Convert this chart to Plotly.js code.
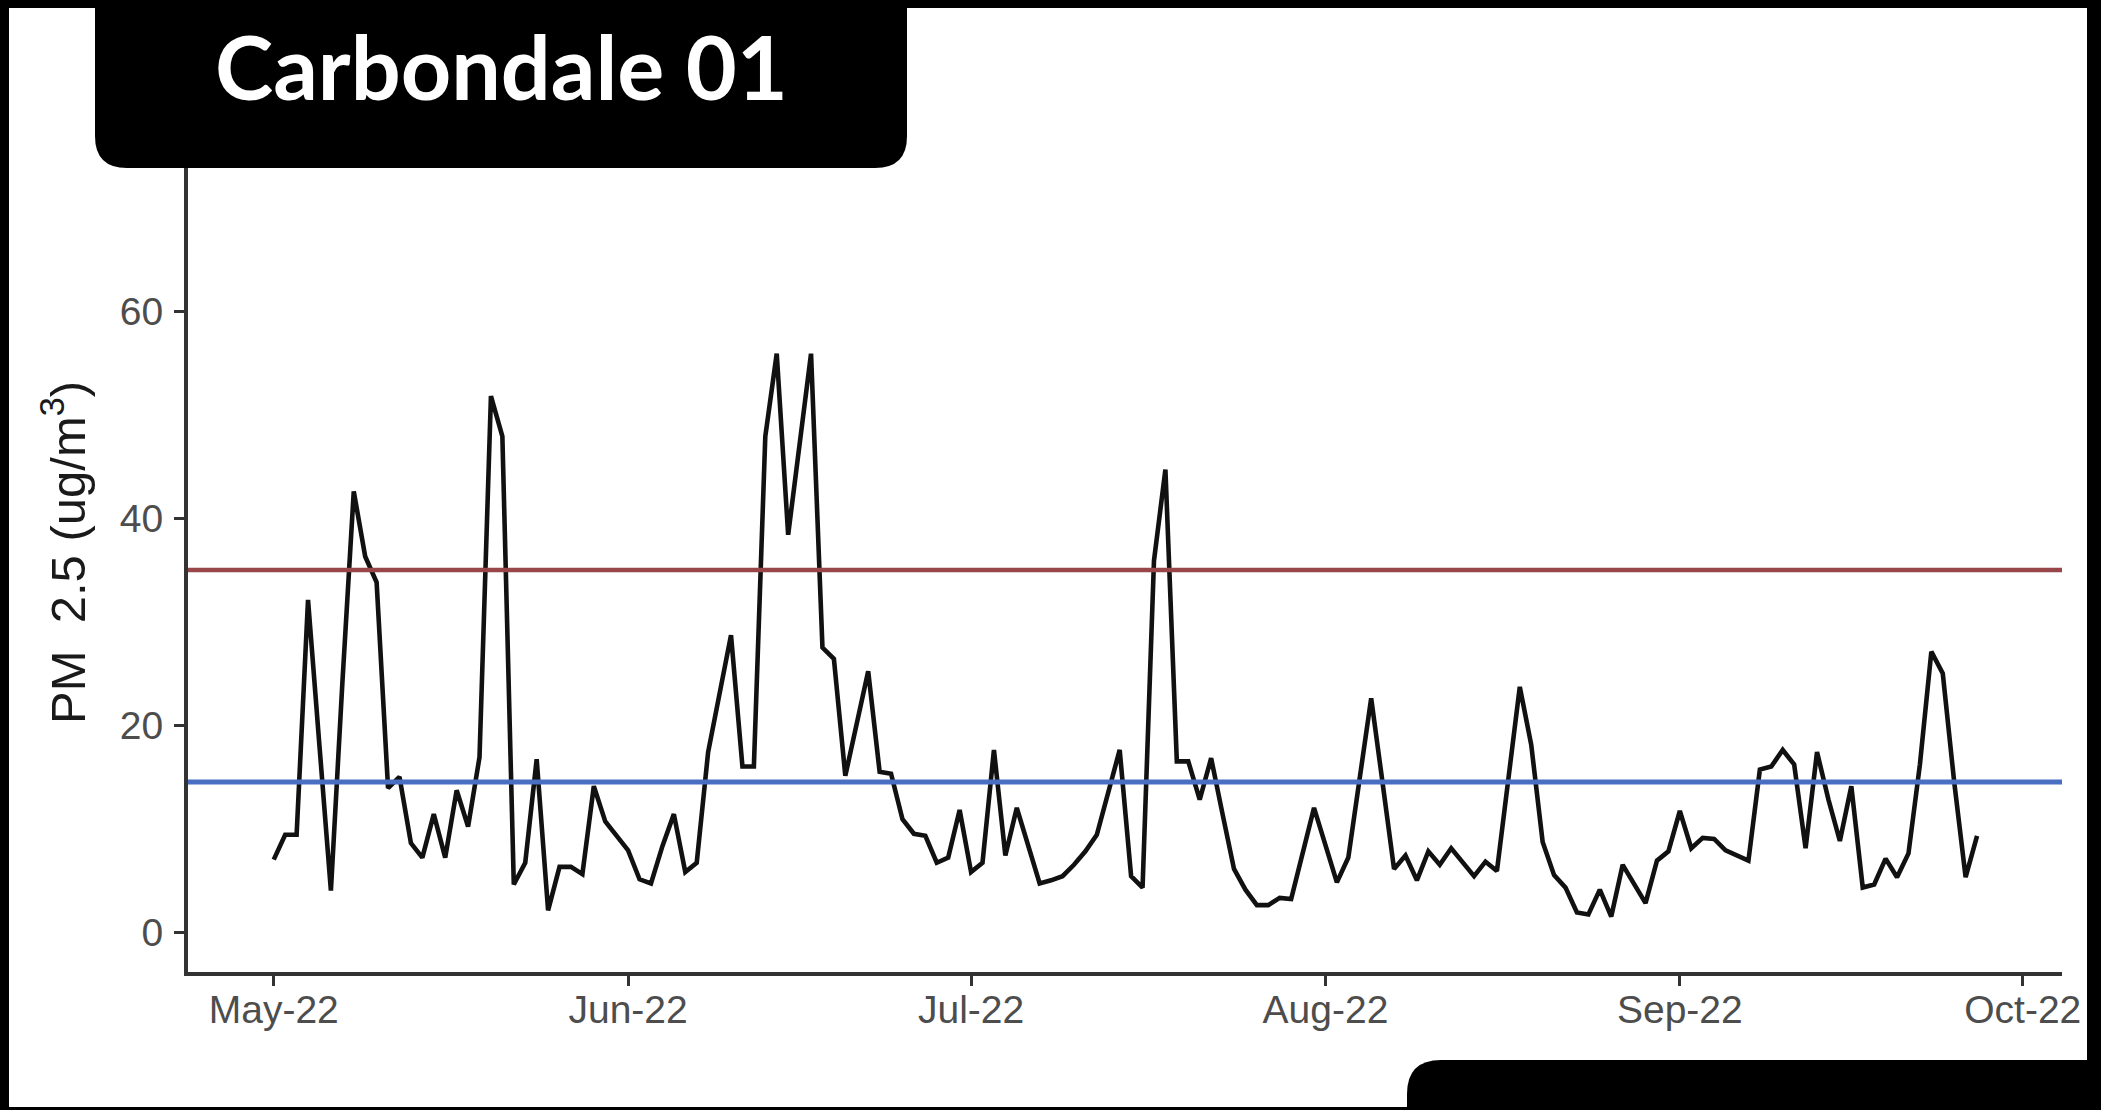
<!DOCTYPE html>
<html>
<head>
<meta charset="utf-8">
<script src="https://cdn.plot.ly/plotly-3.0.1.min.js"></script>
<style>
html, body { margin: 0; padding: 0; background: #000; overflow: hidden; }
#chart { width: 2101px; height: 1110px; }
</style>
</head>
<body>
<div id="chart"></div>
<script>
// ---------------- data ----------------
const chartTitle = 'Carbondale 01';
const yAxisTitle = 'PM\u00A0\u00A02.5\u00A0(ug/m<sup>3</sup>)';
const startDate = '2022-05-01';   // first daily reading
const pm25 = [
  7.0, 9.4, 9.4, 32.1, 18.0, 4.0, 24.0, 42.6, 36.3, 33.8,
  13.9, 15.0, 8.6, 7.2, 11.4, 7.2, 13.7, 10.2, 16.9, 51.8,
  47.9, 4.6, 6.7, 16.7, 2.1, 6.3, 6.3, 5.6, 14.1, 10.7,
  9.3, 7.9, 5.1, 4.7, 8.3, 11.4, 5.8, 6.7, 17.4, 23.2,
  28.7, 16.0, 16.0, 47.9, 55.9, 38.4, 47.6, 55.9, 27.5, 26.4,
  15.1, 20.1, 25.2, 15.5, 15.3, 10.9, 9.5, 9.3, 6.7, 7.2,
  11.8, 5.8, 6.7, 17.6, 7.4, 12.0, 8.4, 4.7, 5.0, 5.4,
  6.5, 7.8, 9.4, 13.5, 17.6, 5.4, 4.3, 35.9, 44.7, 16.5,
  16.5, 12.8, 16.8, 11.4, 6.1, 4.1, 2.6, 2.6, 3.3, 3.2,
  7.7, 12.0, 8.4, 4.8, 7.2, 14.9, 22.6, 14.4, 6.1, 7.4,
  5.0, 7.8, 6.5, 8.1, 6.7, 5.4, 6.8, 5.9, 14.8, 23.7,
  18.1, 8.7, 5.5, 4.3, 1.9, 1.7, 4.1, 1.5, 6.5, 4.6,
  2.8, 6.9, 7.8, 11.7, 8.1, 9.1, 9.0, 7.9, 7.4, 6.9,
  15.7, 16.0, 17.6, 16.2, 8.1, 17.4, 12.8, 8.8, 14.1, 4.3,
  4.6, 7.1, 5.3, 7.6, 16.2, 27.1, 25.0, 14.5, 5.3, 9.3
];
const thresholdValues = [35, 14.5];
const yTickValues = [0, 20, 40, 60];
const yTickLabels = ['0', '20', '40', '60'];
const xTickStart = '2022-05-01';
const xTickFormat = '%b-%y';
const xRange = ['2022-04-23 12:00', '2022-10-04 10:19'];
const yRange = [-3.86, 80.9];

// ---------------- build ----------------
function dayString(start, offset) {
  const p = start.split('-').map(Number);
  const d = new Date(Date.UTC(p[0], p[1] - 1, p[2] + offset));
  return d.toISOString().slice(0, 10);
}
const dates = pm25.map((_, i) => dayString(startDate, i));

const W = 2101, H = 1110;
const M = { l: 188, r: 39, t: 95, b: 138 };
const PW = W - M.l - M.r, PH = H - M.t - M.b;
const px = x => (x - M.l) / PW;
const py = y => (H - M.b - y) / PH;

function roundedPath(x0, y0, x1, y1, rTL, rTR, rBR, rBL) {
  const X = px, Y = py;
  return [
    'M', X(x0 + rTL), Y(y0),
    'L', X(x1 - rTR), Y(y0),
    'Q', X(x1), Y(y0), X(x1), Y(y0 + rTR),
    'L', X(x1), Y(y1 - rBR),
    'Q', X(x1), Y(y1), X(x1 - rBR), Y(y1),
    'L', X(x0 + rBL), Y(y1),
    'Q', X(x0), Y(y1), X(x0), Y(y1 - rBL),
    'L', X(x0), Y(y0 + rTL),
    'Q', X(x0), Y(y0), X(x0 + rTL), Y(y0),
    'Z'
  ].join(' ').replace(/ (-?[\d.]+) (-?[\d.]+)/g, ' $1,$2');
}

const traces = [{
  type: 'scatter',
  mode: 'lines',
  x: dates,
  y: pm25,
  line: { color: '#111111', width: 4.6 },
  hoverinfo: 'skip',
  showlegend: false
}];

const thresholdColors = ['#98464a', '#4a6fc2'];
const thresholdWidths = [4.5, 5];

const shapes = [
  // white card
  { type: 'rect', xref: 'paper', yref: 'paper', layer: 'below',
    x0: px(9), x1: px(2087), y0: py(8), y1: py(1107),
    fillcolor: '#ffffff', line: { width: 0 } },
];
thresholdValues.forEach((v, i) => {
  shapes.push({ type: 'line', xref: 'paper', yref: 'y', layer: 'above',
    x0: 0, x1: 1, y0: v, y1: v,
    line: { color: thresholdColors[i], width: thresholdWidths[i] } });
});
// title tab and bottom tab
shapes.push({ type: 'path', xref: 'paper', yref: 'paper', layer: 'above',
  path: roundedPath(95, -20, 907, 168, 0, 0, 32, 32),
  fillcolor: '#000000', line: { width: 0 } });
shapes.push({ type: 'path', xref: 'paper', yref: 'paper', layer: 'above',
  path: roundedPath(1407, 1060, 2130, 1140, 34, 0, 0, 0),
  fillcolor: '#000000', line: { width: 0 } });

const tickFont = { family: 'Liberation Sans, Arial, sans-serif', size: 39, color: '#4d4d4d' };

const layout = {
  width: W, height: H,
  margin: M,
  paper_bgcolor: '#000000',
  plot_bgcolor: '#ffffff',
  showlegend: false,
  hovermode: false,
  xaxis: {
    type: 'date',
    range: xRange,
    tick0: xTickStart,
    dtick: 'M1',
    tickformat: xTickFormat,
    showgrid: false, zeroline: false,
    showline: true, linecolor: '#333333', linewidth: 4,
    ticks: 'outside', ticklen: 10, tickwidth: 3, tickcolor: '#333333',
    tickfont: tickFont,
    ticklabelstandoff: -10,
    automargin: false
  },
  yaxis: {
    range: yRange,
    tickvals: yTickValues,
    ticktext: yTickLabels,
    showgrid: false, zeroline: false,
    showline: true, linecolor: '#333333', linewidth: 4,
    ticks: 'outside', ticklen: 10, tickwidth: 3, tickcolor: '#333333',
    tickfont: tickFont,
    ticklabelstandoff: 3,
    automargin: false
  },
  shapes: shapes,
  annotations: [{
    xref: 'paper', yref: 'paper',
    x: px(501), y: py(66),
    xanchor: 'center', yanchor: 'middle',
    text: '<b>' + chartTitle + '</b>',
    showarrow: false,
    font: { family: 'Lato, Open Sans, sans-serif', size: 88, color: '#ffffff' }
  }, {
    xref: 'paper', yref: 'paper',
    x: px(64), y: py(553),
    xanchor: 'center', yanchor: 'middle',
    textangle: -90,
    text: yAxisTitle,
    showarrow: false,
    font: { family: 'Liberation Sans, Arial, sans-serif', size: 49, color: '#1a1a1a' }
  }]
};

Plotly.newPlot('chart', traces, layout, { staticPlot: true, displayModeBar: false });
</script>
</body>
</html>
